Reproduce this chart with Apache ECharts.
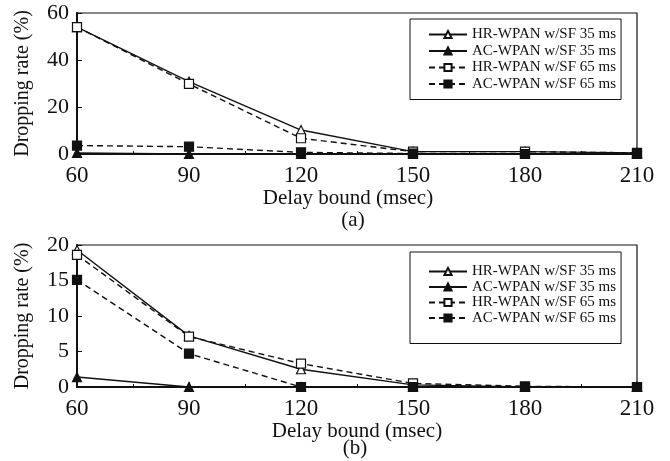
<!DOCTYPE html>
<html>
<head>
<meta charset="utf-8">
<script src="https://cdn.jsdelivr.net/npm/echarts@6/dist/echarts.min.js"></script>
<style>
  html, body { margin: 0; padding: 0; background: #fff; }
  #chart { width: 670px; height: 461px; }
</style>
</head>
<body>
<div id="chart"></div>
<script>
const delays = [60, 90, 120, 150, 180, 210];
const seriesNames = ["HR-WPAN w/SF 35 ms", "AC-WPAN w/SF 35 ms", "HR-WPAN w/SF 65 ms", "AC-WPAN w/SF 65 ms"];

// (a)
const aHr35 = [54, 30.8, 10.2, 1, 1, 0.5];
const aAc35 = [0.5, 0, 0, 0, 0, 0];
const aHr65 = [54, 29.8, 6.7, 1, 1, 0.5];
const aAc65 = [3.6, 3.1, 0.7, 0.2, 0, 0];

// (b)
const bHr35 = [19.3, 7.2, 2.5, 0.3, 0, 0];
const bAc35 = [1.4, 0, 0, 0, 0, 0];
const bHr65 = [18.6, 7.1, 3.3, 0.5, 0.1, 0];
const bAc65 = [15.1, 4.7, 0, 0, 0, 0];

const font = "Liberation Serif";
const ink = "#111";

const styles = [
  { symbol: "triangle", fill: "#fff", dash: "solid" },
  { symbol: "triangle", fill: ink, dash: "solid" },
  { symbol: "rect", fill: "#fff", dash: [6, 4] },
  { symbol: "rect", fill: ink, dash: [6, 4] },
];

function pairs(values) {
  return delays.map((d, i) => [d, values[i]]);
}

function makeSeries(values, idx) {
  return values.map((vals, i) => ({
    name: seriesNames[i],
    type: "line",
    xAxisIndex: idx,
    yAxisIndex: idx,
    data: pairs(vals),
    symbol: styles[i].symbol,
    symbolSize: 9,
    clip: false,
    lineStyle: { color: ink, width: 1.4, type: styles[i].dash },
    itemStyle: { color: styles[i].fill, borderColor: ink, borderWidth: 1.2 },
  }));
}

function xAxis(idx, gap, shift) {
  return {
    type: "value",
    gridIndex: idx,
    min: 60, max: 210, interval: 30,
    name: "Delay bound (msec)",
    nameLocation: "middle",
    nameGap: gap,
    nameTextStyle: { fontFamily: font, fontSize: 21, color: ink, padding: [0, shift, 0, 0] },
    axisLine: { lineStyle: { color: ink, width: 2 } },
    axisTick: { inside: true, length: 5, lineStyle: { color: ink } },
    minorTick: { show: true, splitNumber: 2, length: 3, lineStyle: { color: ink } },
    axisLabel: { fontFamily: font, fontSize: 23, color: ink, margin: 10 },
    splitLine: { show: false },
  };
}

function yAxis(idx, max, interval) {
  return {
    type: "value",
    gridIndex: idx,
    min: 0, max: max, interval: interval,
    name: "Dropping rate (%)",
    nameLocation: "middle",
    nameGap: 44,
    nameTextStyle: { fontFamily: font, fontSize: 20, color: ink },
    axisLine: { lineStyle: { color: ink, width: 2 } },
    axisTick: { inside: true, length: 5, lineStyle: { color: ink } },
    axisLabel: { fontFamily: font, fontSize: 22, color: ink, margin: 8 },
    splitLine: { show: false },
  };
}

function legend(top, padding, gap) {
  return {
    data: seriesNames,
    left: 410,
    top: top,
    orient: "vertical",
    align: "left",
    itemWidth: 38,
    itemHeight: 9,
    itemGap: gap,
    padding: padding,
    borderColor: ink,
    borderWidth: 1,
    backgroundColor: "#fff",
    selectedMode: false,
    textStyle: { fontFamily: font, fontSize: 15, color: ink },
  };
}

const chart = echarts.init(document.getElementById("chart"));
chart.setOption({
  animation: false,
  grid: [
    { left: 77, right: 33, top: 13, height: 141, show: true, borderColor: ink, borderWidth: 1.2 },
    { left: 77, right: 33, top: 245, height: 142, show: true, borderColor: ink, borderWidth: 1.2 },
  ],
  xAxis: [xAxis(0, 32, 18), xAxis(1, 25, 0)],
  yAxis: [yAxis(0, 60, 20), yAxis(1, 20, 5)],
  legend: [
    legend(19, [8, 5, 8, 18], 1.5),
    legend(252, [12, 5, 18, 18], 0.5),
  ],
  title: [
    { text: "(a)", left: 348, top: 205, textAlign: "center", textStyle: { fontFamily: font, fontSize: 21, fontWeight: "normal", color: ink } },
    { text: "(b)", left: 350, top: 433, textAlign: "center", textStyle: { fontFamily: font, fontSize: 21, fontWeight: "normal", color: ink } },
  ],
  series: [
    ...makeSeries([aHr35, aAc35, aHr65, aAc65], 0),
    ...makeSeries([bHr35, bAc35, bHr65, bAc65], 1),
  ],
});
</script>
</body>
</html>
